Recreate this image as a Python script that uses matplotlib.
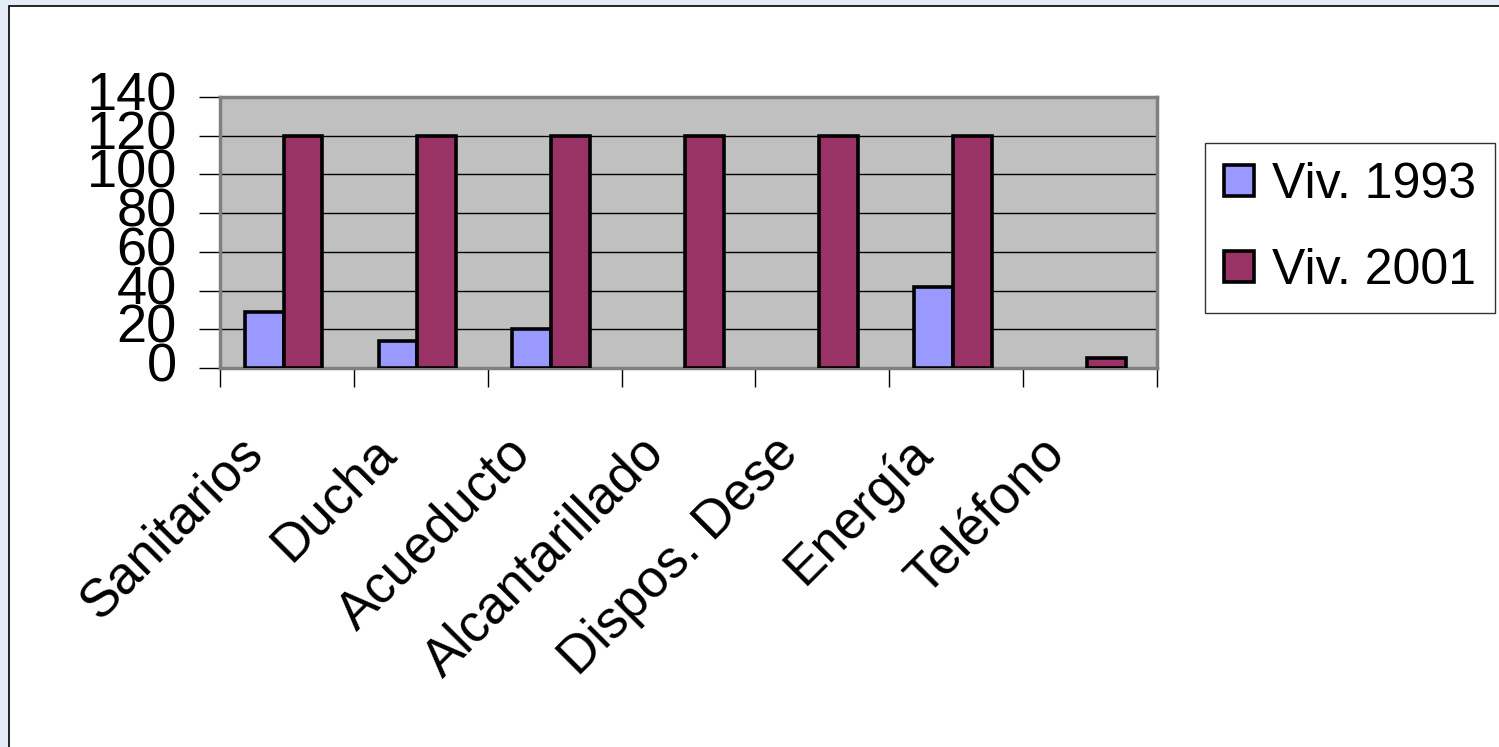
"""Viviendas con servicios: 1993 vs 2001."""
import matplotlib
matplotlib.use("Agg")
import matplotlib.pyplot as plt
from matplotlib.patches import Rectangle
from matplotlib.transforms import ScaledTranslation
import numpy as np

plt.rcParams["font.family"] = ["Liberation Sans", "DejaVu Sans"]

categorias = ["Sanitarios", "Ducha", "Acueducto", "Alcantarillado",
              "Dispos. Dese", "Energía", "Teléfono"]
viv_1993 = [29, 14, 20, 0, 0, 42, 0]
viv_2001 = [120, 120, 120, 120, 120, 120, 5]
y_ticks = [0, 20, 40, 60, 80, 100, 120, 140]

fig = plt.figure(figsize=(14.99, 7.47), dpi=100, facecolor="#e3ebf4")
# panel blanco con borde
fig.patches.append(Rectangle((9 / 1499, -0.1), 1.1, 1.1 - 6 / 747,
                             transform=fig.transFigure, facecolor="white",
                             edgecolor="black", linewidth=1.2, zorder=-5))

ax = fig.add_axes([220 / 1499, 1 - 368 / 747, (1157 - 220) / 1499, (368 - 97) / 747])
ax.set_facecolor("#c0c0c0")

x = np.arange(len(categorias))
w = 0.29
off = -0.025
# las barras con valor 0 no se dibujan
h93 = [v if v > 0 else np.nan for v in viv_1993]
h01 = [v if v > 0 else np.nan for v in viv_2001]
ax.bar(x - w / 2 + off, h93, w, color="#9999ff", edgecolor="black",
       linewidth=2.6, label="Viv. 1993", zorder=3)
ax.bar(x + w / 2 + off, h01, w, color="#993366", edgecolor="black",
       linewidth=2.6, label="Viv. 2001", zorder=3)

ax.set_xlim(-0.5, len(categorias) - 0.5)
ax.set_ylim(0, 140)
ax.set_yticks(y_ticks)
ax.set_yticklabels([str(v) for v in y_ticks], fontsize=39)
ax.yaxis.grid(True, color="black", linewidth=1.0, zorder=1)
ax.tick_params(axis="y", length=15, width=1.0, pad=16)
up = ScaledTranslation(0, 6 / 100, fig.dpi_scale_trans)
for lab in ax.get_yticklabels():
    lab.set_transform(lab.get_transform() + up)

ax.set_xticks(x)
ax.set_xticklabels(categorias, fontsize=38, rotation=45, ha="right",
                   rotation_mode="anchor")
ax.tick_params(axis="x", which="major", length=0, pad=43)
ax.set_xticks(np.arange(len(categorias) + 1) - 0.5, minor=True)
ax.tick_params(axis="x", which="minor", length=14, width=1.0)
shift = ScaledTranslation(-50 / 100, 0, fig.dpi_scale_trans)
for lab in ax.get_xticklabels():
    lab.set_transform(lab.get_transform() + shift)

for side in ["top", "right", "left", "bottom"]:
    ax.spines[side].set_color("#808080")
    ax.spines[side].set_linewidth(2.5)

leg = fig.legend(loc="upper left", bbox_to_anchor=(1205 / 1499, 1 - 143 / 747),
                 fontsize=36, frameon=True, fancybox=False, edgecolor="black",
                 handlelength=0.6, handleheight=0.6, handletextpad=0.35,
                 labelspacing=0.8, borderpad=0.38, borderaxespad=0)
leg.get_frame().set_linewidth(1.0)

fig.savefig("out.png", dpi=100, facecolor=fig.get_facecolor())
